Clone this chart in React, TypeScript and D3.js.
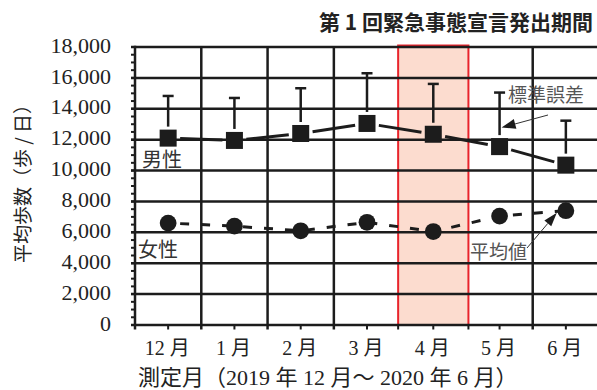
import React from "react";
import * as d3 from "d3";

// Measurement months (Dec 2019 – Jun 2020)
const months = ["12 月", "1 月", "2 月", "3 月", "4 月", "5 月", "6 月"];
// Mean daily steps, men, and their standard error
const maleMean = [12100, 11950, 12400, 13050, 12350, 11550, 10350];
const maleSE = [2730, 2750, 2930, 3250, 3260, 3500, 2880];
// Mean daily steps, women
const femaleMean = [6600, 6400, 6100, 6650, 6050, 7050, 7400];
// Y axis ticks
const yTicks = [0, 2000, 4000, 6000, 8000, 10000, 12000, 14000, 16000, 18000];
// Month covered by the first state-of-emergency declaration
const emergencyMonth = "4 月";

const W = 597;
const H = 390;
const left = 135;
const top = 47;
const bottom = 325;
const right = 599;

const INK = "#1c1c1c";
const SERIF = "'Liberation Serif', 'Noto Sans CJK JP', serif";
const CJK = "'Noto Sans CJK JP', sans-serif";

export default function App() {
  const x = d3.scaleBand<string>().domain(months).range([left, right]).padding(0);
  const y = d3.scaleLinear().domain([0, 18000]).range([bottom, top]);
  const cx = (m: string) => (x(m) as number) + x.bandwidth() / 2;

  const minorTicks = d3.range(0, 18001, 500);
  const boundaries = months.map((m) => x(m) as number).slice(1);

  const malePts = months.map((m, i) => [cx(m), y(maleMean[i])] as [number, number]);
  const femalePts = months.map((m, i) => [cx(m), y(femaleMean[i])] as [number, number]);

  const half = 8.5;
  const gap = 12;
  const maleSegs = malePts.slice(1).map((p, i) => {
    const a = malePts[i];
    const dx = p[0] - a[0];
    const dy = p[1] - a[1];
    const len = Math.hypot(dx, dy);
    const ux = dx / len;
    const uy = dy / len;
    return [a[0] + ux * gap, a[1] + uy * gap, p[0] - ux * gap, p[1] - uy * gap];
  });

  const femaleLine = d3.line()(femalePts) as string;

  const bx0 = x(emergencyMonth) as number;
  const bw = x.bandwidth();

  const arrow = (x1: number, y1: number, x2: number, y2: number, hl: number, hw: number) => {
    const dx = x2 - x1;
    const dy = y2 - y1;
    const len = Math.hypot(dx, dy);
    const ux = dx / len;
    const uy = dy / len;
    const bxp = x2 - ux * hl;
    const byp = y2 - uy * hl;
    const px = -uy * (hw / 2);
    const py = ux * (hw / 2);
    return (
      <g>
        <line x1={x1} y1={y1} x2={bxp} y2={byp} stroke="#333" strokeWidth={1} />
        <polygon
          points={`${x2},${y2} ${bxp + px},${byp + py} ${bxp - px},${byp - py}`}
          fill={INK}
        />
      </g>
    );
  };

  return (
    <svg
      width={W}
      height={H}
      style={{ position: "absolute", left: 0, top: 0, background: "#fff" }}
    >
      {/* emergency period band */}
      <rect
        x={bx0 - 2}
        y={top - 1.5}
        width={bw + 4}
        height={bottom - top + 1.5}
        fill="#fcdccf"
        stroke="#e8242c"
        strokeWidth={2}
      />

      {/* horizontal grid */}
      {yTicks.map((t) => (
        <line key={"h" + t} x1={left - 4} x2={W + 5} y1={y(t)} y2={y(t)} stroke={INK} strokeWidth={2.5} />
      ))}
      {/* vertical grid at month boundaries */}
      {boundaries
        .filter((b) => Math.abs(b - bx0) > 1 && Math.abs(b - (bx0 + bw)) > 1)
        .map((b) => (
          <line key={"v" + b} x1={b} x2={b} y1={top} y2={bottom + 4.5} stroke={INK} strokeWidth={2.5} />
        ))}
      {/* left axis */}
      <line x1={left} x2={left} y1={top - 1.2} y2={bottom + 4.5} stroke={INK} strokeWidth={2.5} />
      {/* minor ticks */}
      {minorTicks.map((t) => (
        <line key={"m" + t} x1={left - 4} x2={left} y1={y(t)} y2={y(t)} stroke={INK} strokeWidth={2} />
      ))}
      {/* bottom ticks at centers and band edges */}
      {months.map((m) => (
        <line key={"c" + m} x1={cx(m)} x2={cx(m)} y1={bottom} y2={bottom + 4.5} stroke={INK} strokeWidth={2} />
      ))}
      <line x1={bx0 - 2} x2={bx0 - 2} y1={bottom} y2={bottom + 4.5} stroke={INK} strokeWidth={2} />
      <line x1={bx0 + bw + 2} x2={bx0 + bw + 2} y1={bottom} y2={bottom + 4.5} stroke={INK} strokeWidth={2} />

      {/* y tick labels */}
      {yTicks.map((t) => (
        <text
          key={"yl" + t}
          x={111}
          y={y(t) + 5.7}
          textAnchor="end"
          fontFamily={SERIF}
          fontSize={22}
          fill="#222"
        >
          {d3.format(",")(t)}
        </text>
      ))}

      {/* x tick labels */}
      {months.map((m) => (
        <text
          key={"xl" + m}
          x={cx(m) - 1}
          y={355}
          textAnchor="middle"
          fontFamily={SERIF}
          fontSize={20}
          fill="#222"
        >
          {m}
        </text>
      ))}

      {/* axis titles */}
      <text x={138} y={384.5} fontFamily={SERIF} fontSize={22} fill="#222">
        測定月（2019 年 12 月〜 2020 年 6 月）
      </text>
      <text
        transform="translate(21,179) rotate(-90)"
        textAnchor="middle"
        dominantBaseline="central"
        fontFamily={CJK}
        fontSize={19}
        fill="#222"
      >
        平均歩数（歩 / 日）
      </text>

      {/* chart title */}
      <text x={593} y={30} textAnchor="end" fontFamily={CJK} fontWeight={700} fontSize={21} fill="#222">
        第 1 回緊急事態宣言発出期間
      </text>

      {/* male error bars */}
      {months.map((m, i) => {
        const px = cx(m);
        const yt = y(maleMean[i] + maleSE[i]);
        const yb = y(maleMean[i]) - half - 3;
        return (
          <g key={"eb" + m}>
            <line x1={px} x2={px} y1={yt} y2={yb} stroke={INK} strokeWidth={2.5} />
            <line x1={px - 5.5} x2={px + 5.5} y1={yt} y2={yt} stroke={INK} strokeWidth={2.5} />
          </g>
        );
      })}

      {/* male line and markers */}
      {maleSegs.map((s, i) => (
        <line key={"ms" + i} x1={s[0]} y1={s[1]} x2={s[2]} y2={s[3]} stroke={INK} strokeWidth={3} />
      ))}
      {malePts.map((p, i) => (
        <rect key={"mk" + i} x={p[0] - half} y={p[1] - half} width={half * 2} height={half * 2} fill={INK} />
      ))}

      {/* female dashed line and markers */}
      <path d={femaleLine} fill="none" stroke={INK} strokeWidth={3} strokeDasharray="9,12" strokeDashoffset={-12} />
      {femalePts.map((p, i) => (
        <circle key={"fk" + i} cx={p[0]} cy={p[1]} r={8.4} fill={INK} />
      ))}

      {/* series labels */}
      <text x={142} y={167} fontFamily={CJK} fontSize={20} fill="#333">
        男性
      </text>
      <text x={138} y={257} fontFamily={CJK} fontSize={20} fill="#333">
        女性
      </text>

      {/* annotations */}
      <text x={508} y={102} fontFamily={CJK} fontSize={19} fill="#555">
        標準誤差
      </text>
      {arrow(548, 115, cx("5 月") + 2, y(maleMean[5]) - 19, 14, 10)}
      <text x={470} y={259} fontFamily={CJK} fontSize={19} fill="#555">
        平均値
      </text>
      {arrow(527, 248, cx("6 月") - 9, y(femaleMean[6]) + 2, 14, 9)}
    </svg>
  );
}
